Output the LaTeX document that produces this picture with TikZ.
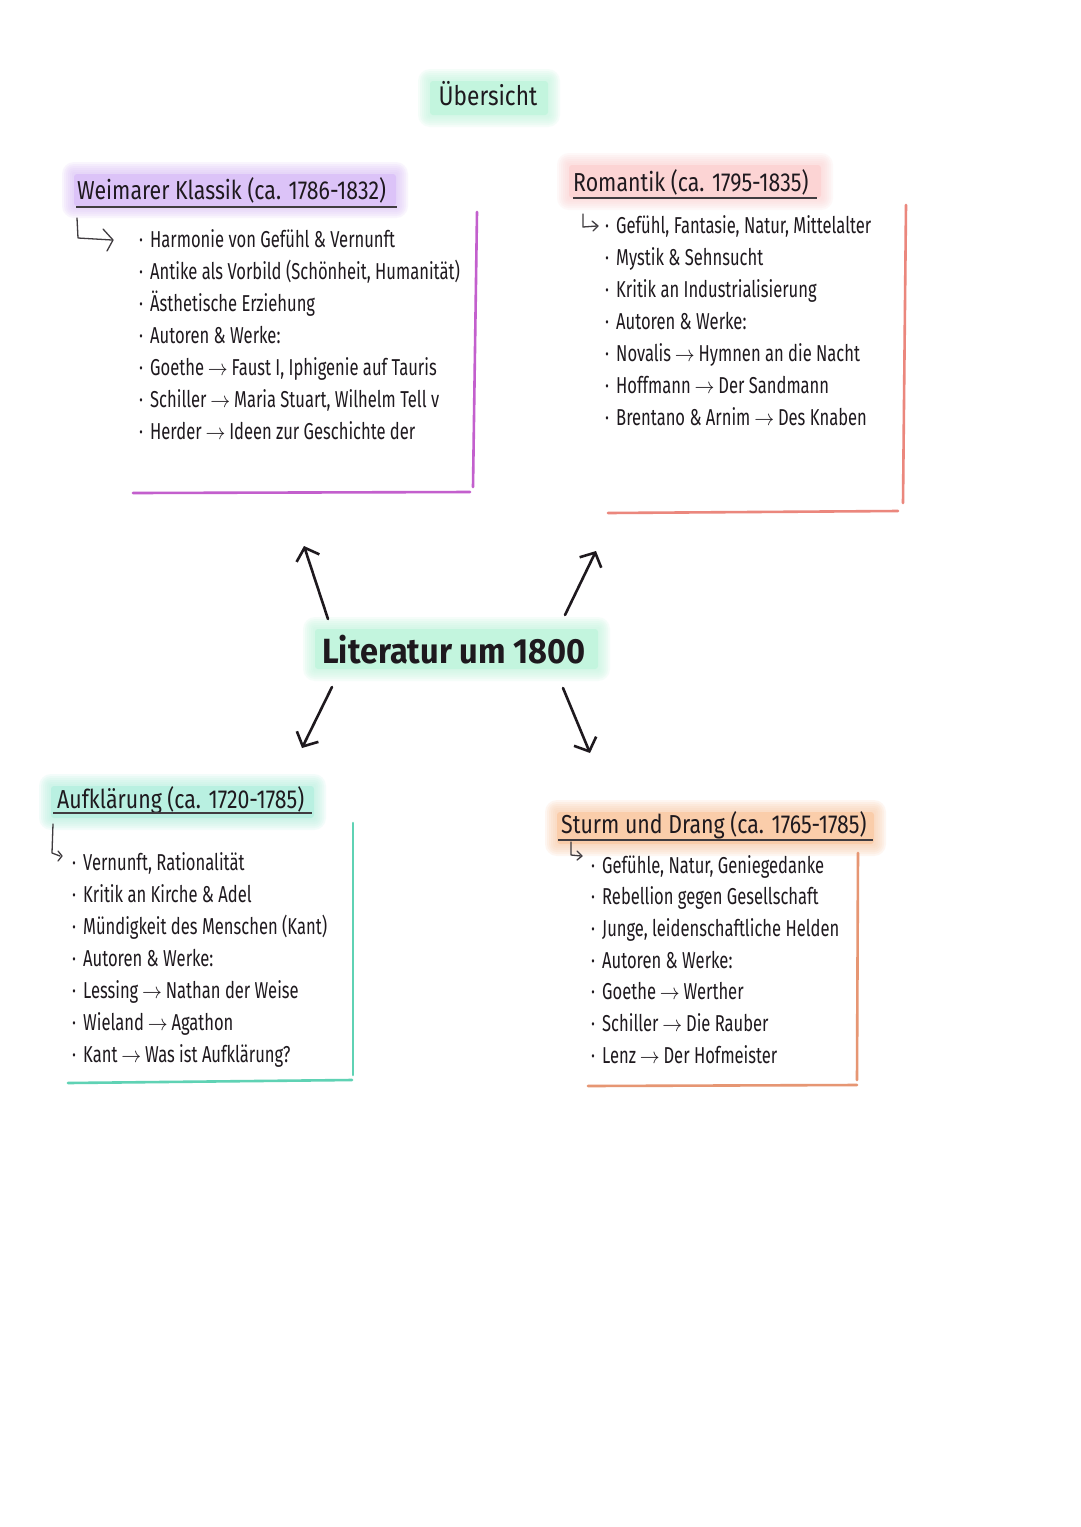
\documentclass[tikz,border=0pt]{standalone}
\usepackage{fontspec}
\usepackage{graphicx}
\setmainfont{Fira Sans}[FakeStretch=0.72]
\newfontfamily\hdrfont{Fira Sans}[FakeStretch=0.82]
\newfontfamily\titlefont{Fira Sans}[FakeStretch=0.84]
\newfontfamily\litfont{Fira Sans}[FakeStretch=0.93]
\usetikzlibrary{arrows.meta}
\definecolor{ink}{RGB}{30,25,30}
\definecolor{wkline}{RGB}{195,95,205}
\definecolor{wkhl}{RGB}{220,195,248}
\definecolor{roline}{RGB}{235,135,125}
\definecolor{rohl}{RGB}{252,212,212}
\definecolor{auline}{RGB}{95,210,180}
\definecolor{auhl}{RGB}{185,240,225}
\definecolor{stline}{RGB}{230,150,115}
\definecolor{sthl}{RGB}{250,205,170}
\definecolor{mint}{RGB}{195,245,222}
\newcommand\ra{\,\scalebox{0.8}[0.9]{$\rightarrow$}\,}
\newcommand\glowbox[5]{%
  \foreach \g in {12,10,8,6,4,2}{\fill[#1, opacity=0.16, rounded corners=\g pt] (#2-\g,#3-\g) rectangle (#4+\g,#5+\g);}
  \fill[#1, rounded corners=3pt] (#2,#3) rectangle (#4,#5);}
\begin{document}
\begin{tikzpicture}[x=1pt,y=-1pt,
  itemtext/.style={anchor=base west, inner sep=0pt, text=ink, font=\fontsize{23}{28}\selectfont},
  hdr/.style={anchor=base west, inner sep=0pt, text=ink, font=\hdrfont\fontsize{26}{30}\selectfont},
  uline/.style={draw=ink!85, line width=1.4pt},
  hookline/.style={draw=ink!85, line width=1.3pt, line cap=round, line join=round},
  boxline/.style={line width=2.6pt, line cap=round},
  bigarrow/.style={draw=ink, line width=2.6pt, line cap=round, -{Straight Barb[length=11pt,width=24pt,line width=2.6pt]}}]
\path[use as bounding box, fill=white] (0,0) rectangle (1080,1527);

% ---- title
\glowbox{mint}{430}{81}{548}{115}
\node[anchor=base, inner sep=0pt, text=ink, font=\titlefont\fontsize{27}{30}\selectfont] (title) at (488,105) {Übersicht};

% ---- centre
\glowbox{mint}{315}{629}{598}{669}
\node[anchor=base, inner sep=0pt, text=ink, font=\litfont\bfseries\fontsize{35}{40}\selectfont] (lit) at (454,663) {Literatur um 1800};

\coordinate (a1s) at (328,619); \coordinate (a1e) at (304,546);
\coordinate (a2s) at (565,615); \coordinate (a2e) at (596,551);
\coordinate (a3s) at (332,687); \coordinate (a3e) at (302,748);
\coordinate (a4s) at (563,688); \coordinate (a4e) at (590,753);
\draw[bigarrow] (a1s) -- (a1e);
\draw[bigarrow] (a2s) -- (a2e);
\draw[bigarrow] (a3s) -- (a3e);
\draw[bigarrow] (a4s) -- (a4e);

% ---- Weimarer Klassik
\glowbox{wkhl}{74}{174}{396}{206}
\node[hdr] (wk) at (77,199) {Weimarer Klassik (ca. 1786-1832)};
\draw[uline] (76,207) -- (397,207);
\draw[hookline] (77,218) -- (78,238) -- (112,240);
\draw[hookline] (103,229) -- (113,240) -- (107,251);
\foreach \t [count=\i from 0] in {%
  {Harmonie von Gefühl \& Vernunft},
  {Antike als Vorbild (Schönheit, Humanität)},
  {Ästhetische Erziehung},
  {Autoren \& Werke:},
  {Goethe\ra Faust I, Iphigenie auf Tauris},
  {Schiller\ra Maria Stuart, Wilhelm Tell v},
  {Herder\ra Ideen zur Geschichte der}}
  \node[itemtext] (wk\i) at (139,247+32.1*\i) {\makebox[11pt][l]{·}\t};
\draw[boxline, wkline] (477,212) -- (473,487);
\draw[boxline, wkline] (133,493) -- (470,492);

% ---- Romantik
\glowbox{rohl}{569}{165}{821}{198}
\node[hdr] (ro) at (573,191) {Romantik (ca. 1795-1835)};
\draw[uline] (573,198) -- (817,198);
\draw[hookline] (583,214) -- (583,227) -- (597,226);
\draw[hookline] (592,221) -- (598,226) -- (593,231);
\foreach \t [count=\i from 0] in {%
  {Gefühl, Fantasie, Natur, Mittelalter},
  {Mystik \& Sehnsucht},
  {Kritik an Industrialisierung},
  {Autoren \& Werke:},
  {Novalis\ra Hymnen an die Nacht},
  {Hoffmann\ra Der Sandmann},
  {Brentano \& Arnim\ra Des Knaben}}
  \node[itemtext] (ro\i) at (605,233+32.1*\i) {\makebox[11pt][l]{·}\t};
\draw[boxline, roline] (906,205) -- (903,503);
\draw[boxline, roline] (608,513) -- (898,511);

% ---- Aufklaerung
\glowbox{auhl}{51}{786}{314}{818}
\node[hdr] (au) at (57,808) {Aufklärung (ca. 1720-1785)};
\draw[uline] (53,813) -- (312,813);
\draw[hookline] (53,824) -- (52,853) -- (60,856);
\draw[hookline] (58,851) -- (62,856) -- (58,861);
\foreach \t [count=\i from 0] in {%
  {Vernunft, Rationalität},
  {Kritik an Kirche \& Adel},
  {Mündigkeit des Menschen (Kant)},
  {Autoren \& Werke:},
  {Lessing\ra Nathan der Weise},
  {Wieland\ra Agathon},
  {Kant\ra Was ist Aufklärung?}}
  \node[itemtext] (au\i) at (72,870+32*\i) {\makebox[11pt][l]{·}\t};
\draw[boxline, auline] (353,823) -- (353,1075);
\draw[boxline, auline] (68,1083) -- (352,1080);

% ---- Sturm und Drang
\glowbox{sthl}{557}{812}{874}{844}
\node[hdr] (st) at (561,833) {Sturm und Drang (ca. 1765-1785)};
\draw[uline] (558,840) -- (873,840);
\draw[hookline] (571,842) -- (571,855) -- (581,856);
\draw[hookline] (577,851) -- (582,856) -- (577,860);
\foreach \t [count=\i from 0] in {%
  {Gefühle, Natur, Geniegedanke},
  {Rebellion gegen Gesellschaft},
  {Junge, leidenschaftliche Helden},
  {Autoren \& Werke:},
  {Goethe\ra Werther},
  {Schiller\ra Die Rauber},
  {Lenz\ra Der Hofmeister}}
  \node[itemtext] (st\i) at (591,873+31.7*\i) {\makebox[11pt][l]{·}\t};
\draw[boxline, stline] (858,853) -- (857,1080);
\draw[boxline, stline] (588,1086) -- (857,1085);
\end{tikzpicture}
\end{document}
